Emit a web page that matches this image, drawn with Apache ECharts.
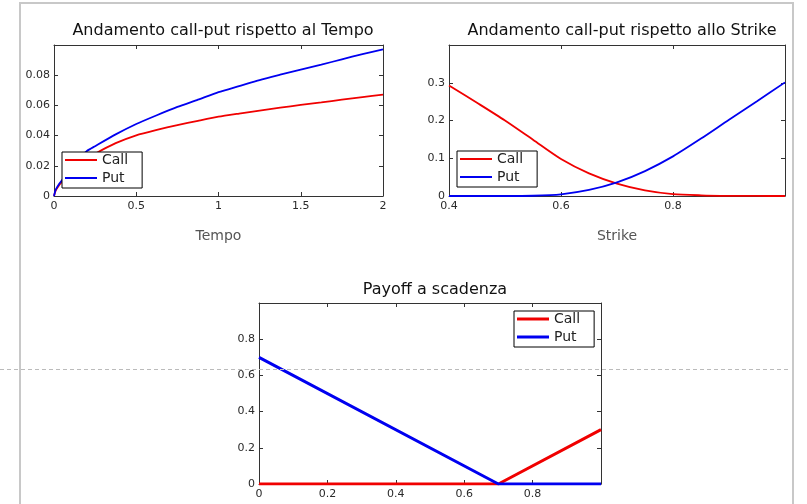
<!DOCTYPE html>
<html>
<head>
<meta charset="utf-8">
<script src="https://cdn.jsdelivr.net/npm/echarts@6/dist/echarts.min.js"></script>
<style>
html,body{margin:0;padding:0;background:#fff;}
#chart{width:807px;height:504px;}
</style>
</head>
<body>
<div id="chart"></div>
<script>
// ---- Data ----
const tempo      = [0, 0.01, 0.03, 0.06, 0.1, 0.15, 0.2, 0.25, 0.375, 0.5, 0.625, 0.75, 0.875, 1, 1.125, 1.25, 1.375, 1.5, 1.625, 1.75, 1.875, 2];
const callTempo  = [0, 0.0035, 0.007, 0.0108, 0.0155, 0.0205, 0.0245, 0.028, 0.035, 0.0402, 0.0438, 0.047, 0.0498, 0.0525, 0.0546, 0.0566, 0.0585, 0.0603, 0.062, 0.0638, 0.0655, 0.0672];
const putTempo   = [0, 0.004, 0.0078, 0.0122, 0.018, 0.0245, 0.0298, 0.033, 0.0408, 0.0477, 0.0535, 0.059, 0.0638, 0.0688, 0.0728, 0.0768, 0.0803, 0.0837, 0.087, 0.0905, 0.094, 0.0971];

const strike      = [0.4, 0.45, 0.5, 0.55, 0.6, 0.65, 0.7, 0.75, 0.8, 0.85, 0.9, 0.95, 1.0];
const callStrike  = [0.293, 0.247, 0.2, 0.149, 0.098, 0.06, 0.033, 0.015, 0.005, 0.0018, 0.0005, 0.0001, 0];
const putStrike   = [0, 0, 0, 0.0007, 0.0045, 0.016, 0.036, 0.066, 0.105, 0.152, 0.202, 0.251, 0.301];

const sottostante = [0, 0.7, 1];
const callPayoff  = [0, 0, 0.3];
const putPayoff   = [0.7, 0, 0];

const seriesNames = ['Call', 'Put'];
const titles = ['Andamento call-put rispetto al Tempo', 'Andamento call-put rispetto allo Strike', 'Payoff a scadenza'];
const xNames = ['Tempo', 'Strike', ''];

// ---- Styling ----
const FONT = 'DejaVu Sans';
const RED = '#f00000';
const BLUE = '#0000f0';
const AXIS_COLOR = '#333';

const grids = [
  {left: 54, top: 45, width: 329, height: 151},
  {left: 449, top: 45, width: 336, height: 151},
  {left: 259, top: 303, width: 342, height: 181}
];
const xScales = [
  {min: 0, max: 2, interval: 0.5, showMax: true},
  {min: 0.4, max: 1, interval: 0.2, showMax: false},
  {min: 0, max: 1, interval: 0.2, showMax: false}
];
const yScales = [
  {min: 0, max: 0.1, interval: 0.02},
  {min: 0, max: 0.4, interval: 0.1},
  {min: 0, max: 1, interval: 0.2}
];

function pair(xs, ys) { return xs.map((x, i) => [x, ys[i]]); }

const xAxis = [], yAxis = [];
grids.forEach((g, i) => {
  const xs = xScales[i], ys = yScales[i];
  const common = () => ({
    axisLine: {show: true, onZero: false, lineStyle: {color: AXIS_COLOR, width: 1}},
    axisTick: {show: true, inside: true, length: 4, lineStyle: {color: AXIS_COLOR}},
    splitLine: {show: false}
  });
  xAxis.push(Object.assign({
    type: 'value', gridIndex: i, position: 'bottom',
    min: xs.min, max: xs.max, interval: xs.interval,
    name: xNames[i], nameLocation: 'middle', nameGap: 33,
    nameTextStyle: {fontSize: 14, color: '#555', fontFamily: FONT},
    axisLabel: {fontSize: 11, color: '#2a2a2a', fontFamily: FONT, margin: 5, showMaxLabel: xs.showMax}
  }, common()));
  xAxis.push(Object.assign({
    type: 'value', gridIndex: i, position: 'top',
    min: xs.min, max: xs.max, interval: xs.interval,
    axisLabel: {show: false}
  }, common()));
  yAxis.push(Object.assign({
    type: 'value', gridIndex: i, position: 'left',
    min: ys.min, max: ys.max, interval: ys.interval,
    axisLabel: {fontSize: 11, color: '#2a2a2a', fontFamily: FONT, margin: 4, showMaxLabel: false}
  }, common()));
  yAxis.push(Object.assign({
    type: 'value', gridIndex: i, position: 'right',
    min: ys.min, max: ys.max, interval: ys.interval,
    axisLabel: {show: false}
  }, common()));
});

function lineSeries(name, data, axisIdx, color, width, smooth) {
  return {
    type: 'line', name: name, data: data,
    xAxisIndex: axisIdx * 2, yAxisIndex: axisIdx * 2,
    symbol: 'none', smooth: smooth,
    lineStyle: {color: color, width: width},
    itemStyle: {color: color},
    silent: true, animation: false
  };
}

const series = [
  lineSeries(seriesNames[0], pair(tempo, callTempo), 0, RED, 1.8, 0.2),
  lineSeries(seriesNames[1], pair(tempo, putTempo), 0, BLUE, 1.8, 0.2),
  lineSeries(seriesNames[0], pair(strike, callStrike), 1, RED, 1.8, 0.25),
  lineSeries(seriesNames[1], pair(strike, putStrike), 1, BLUE, 1.8, 0.25),
  lineSeries(seriesNames[0], pair(sottostante, callPayoff), 2, RED, 3, false),
  lineSeries(seriesNames[1], pair(sottostante, putPayoff), 2, BLUE, 3, false)
];

function legendAt(left, top, lineH) {
  return {
    data: seriesNames, orient: 'vertical', left: left, top: top,
    icon: 'rect', itemWidth: 32, itemHeight: lineH, itemGap: 4,
    padding: [1, 14, 3, 3],
    borderColor: '#000', borderWidth: 1, borderRadius: 0, backgroundColor: '#fff',
    textStyle: {fontSize: 14, color: '#222', fontFamily: FONT},
    selectedMode: false
  };
}

const titleCenters = [[218, 18], [617, 18], [430, 277]];
const title = titles.map((t, i) => ({
  text: t, left: titleCenters[i][0], top: titleCenters[i][1], textAlign: 'center',
  textStyle: {fontSize: 16, fontWeight: 'normal', color: '#111', fontFamily: FONT}
}));

const chart = echarts.init(document.getElementById('chart'), null, {renderer: 'canvas'});
chart.setOption({
  animation: false,
  backgroundColor: '#fff',
  title: title,
  grid: grids,
  xAxis: xAxis,
  yAxis: yAxis,
  legend: [legendAt(62, 152, 2), legendAt(457, 151, 2), legendAt(514, 311, 3)],
  series: series,
  graphic: [
    {type: 'rect', silent: true, z: -10,
     shape: {x: 20, y: 3, width: 773, height: 530},
     style: {fill: 'none', stroke: '#c8c8c8', lineWidth: 2}},
    {type: 'line', silent: true, z: 100,
     shape: {x1: 0, y1: 369.5, x2: 791, y2: 369.5},
     style: {stroke: '#bbbbbb', lineWidth: 1, lineDash: [4, 3]}}
  ]
});
</script>
</body>
</html>
